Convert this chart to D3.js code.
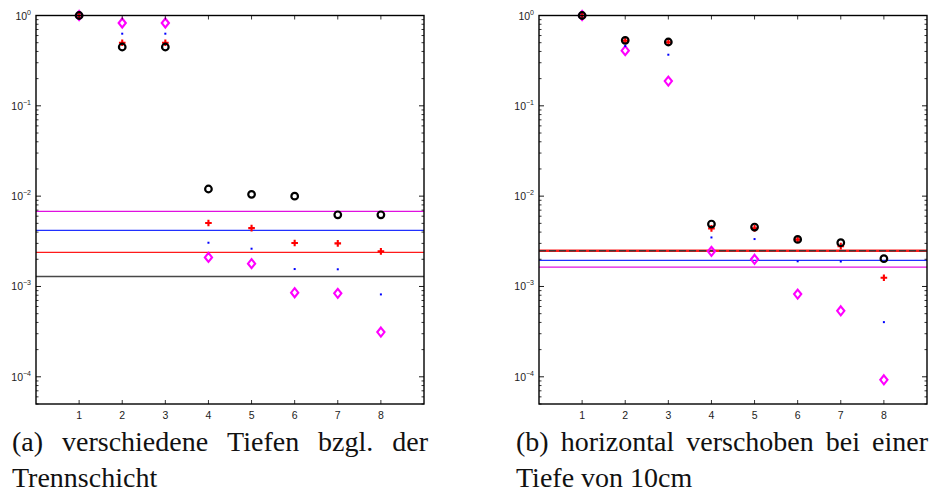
<!DOCTYPE html>
<html>
<head>
<meta charset="utf-8">
<script src="https://cdn.jsdelivr.net/npm/d3@7"></script>
<style>
  html, body { margin: 0; padding: 0; background: #fff; }
  svg { display: block; }
</style>
</head>
<body>
<svg id="chart" width="933" height="493"></svg>
<script>
// Categories on the x axis and tick values
const categories = [1, 2, 3, 4, 5, 6, 7, 8];
const xTicks = [1, 2, 3, 4, 5, 6, 7, 8];
const yTickExponents = [0, -1, -2, -3, -4];

// Panel (a): verschiedene Tiefen
const circlesA  = [1.0, 0.448, 0.448, 0.0120, 0.01047, 0.0100, 0.00622, 0.00622];
const plusA     = [1.0, 0.500, 0.500, 0.00504, 0.00443, 0.00303, 0.00300, 0.00245];
const dotsA     = [1.0, 0.629, 0.629, 0.00305, 0.00262, 0.00156, 0.00155, 0.000817];
const diamondsA = [1.0, 0.826, 0.826, 0.00210, 0.00179, 0.000853, 0.000840, 0.000313];
const levelsA   = [0.00678, 0.00418, 0.00239, 0.00129]; // magenta, blue, red, black

// Panel (b): horizontal verschoben
const circlesB  = [1.0, 0.531, 0.509, 0.00491, 0.00455, 0.00332, 0.00305, 0.00203];
const plusB     = [1.0, 0.525, 0.505, 0.00440, 0.00440, 0.00330, 0.00280, 0.00125];
const dotsB     = [1.0, 0.460, 0.368, 0.00349, 0.00335, 0.00190, 0.00189, 0.000403];
const diamondsB = [1.0, 0.408, 0.188, 0.00245, 0.00200, 0.000824, 0.000538, 0.0000927];
const levelsB   = [0.00164, 0.00195, 0.00249, 0.00249]; // magenta, blue, red, black

const captionA = ["(a) verschiedene Tiefen bzgl. der", "Trennschicht"];
const captionB = ["(b) horizontal verschoben bei einer", "Tiefe von 10cm"];

const svg = d3.select("#chart");

function drawPanel(opt) {
  const { left, right, top, bottom } = opt;
  const g = svg.append("g");
  const x = d3.scaleLinear().domain([0, 9]).range([left, right]);
  const y = d3.scaleLog().domain([5e-5, 1]).range([bottom, top]);

  // reference levels
  const levelColors = ["#e010e0", "#2030ff", "#ff1a1a", "#484848"];
  opt.levels.forEach((v, i) => {
    const ln = g.append("line")
      .attr("x1", left).attr("x2", right)
      .attr("y1", y(v)).attr("y2", y(v))
      .attr("stroke", levelColors[i])
      .attr("stroke-width", i === 3 ? 1.6 : 1.3);
    if (i === 3 && opt.dashedBlack) {
      ln.attr("stroke-dasharray", "7,3").attr("stroke", "#3a3a3a").attr("stroke-width", 1.5);
    }
    if (i === 2 && opt.dashedBlack) ln.attr("stroke-width", 2.4);
  });

  // diamonds (magenta)
  g.selectAll(".dia").data(opt.diamonds).enter().append("path")
    .attr("d", (d, i) => {
      const cx = x(categories[i]), cy = y(d);
      return `M${cx},${cy - 4.5}L${cx + 3.6},${cy}L${cx},${cy + 4.5}L${cx - 3.6},${cy}Z`;
    })
    .attr("fill", "none").attr("stroke", "#ff00ff").attr("stroke-width", 2.1);

  // dots (blue)
  g.selectAll(".dot").data(opt.dots).enter().append("rect")
    .attr("x", (d, i) => x(categories[i]) - 1)
    .attr("y", d => y(d) - 1)
    .attr("width", 2).attr("height", 2)
    .attr("fill", "#0000ff");

  // plus (red)
  g.selectAll(".plus").data(opt.plus).enter().append("path")
    .attr("d", (d, i) => {
      const cx = x(categories[i]), cy = y(d);
      return `M${cx - 3.3},${cy}H${cx + 3.3}M${cx},${cy - 3.3}V${cy + 3.3}`;
    })
    .attr("fill", "none").attr("stroke", "#ff0000").attr("stroke-width", 2.1);

  // circles (black)
  g.selectAll(".circ").data(opt.circles).enter().append("circle")
    .attr("cx", (d, i) => x(categories[i]))
    .attr("cy", d => y(d))
    .attr("r", 3.3)
    .attr("fill", "none").attr("stroke", "#000").attr("stroke-width", 2.2);

  // axes box
  g.append("rect")
    .attr("x", left).attr("y", top)
    .attr("width", right - left).attr("height", bottom - top)
    .attr("fill", "none").attr("stroke", "#000").attr("stroke-width", 1.4);

  // x ticks, inward on bottom and top
  xTicks.forEach(t => {
    const px = x(t);
    g.append("line").attr("x1", px).attr("x2", px).attr("y1", bottom).attr("y2", bottom - 4)
      .attr("stroke", "#000").attr("stroke-width", 0.8);
    g.append("line").attr("x1", px).attr("x2", px).attr("y1", top).attr("y2", top + 4)
      .attr("stroke", "#000").attr("stroke-width", 0.8);
    g.append("text").attr("x", px).attr("y", bottom + 15)
      .attr("text-anchor", "middle")
      .attr("font-family", "Liberation Sans, Arial, sans-serif")
      .attr("font-size", 10.5).attr("fill", "#222")
      .text(t);
  });

  // y ticks: major decades and minor ticks, inward on left and right
  const minorVals = [];
  for (let e = -5; e <= -1; e++) {
    for (let m = 2; m <= 9; m++) {
      const v = m * Math.pow(10, e);
      if (v >= 5e-5 && v < 1) minorVals.push(v);
    }
  }
  minorVals.forEach(v => {
    const py = y(v);
    g.append("line").attr("x1", left).attr("x2", left + 2.5).attr("y1", py).attr("y2", py)
      .attr("stroke", "#000").attr("stroke-width", 0.8);
    g.append("line").attr("x1", right).attr("x2", right - 2.5).attr("y1", py).attr("y2", py)
      .attr("stroke", "#000").attr("stroke-width", 0.8);
  });
  yTickExponents.forEach(e => {
    const py = y(Math.pow(10, e));
    g.append("line").attr("x1", left).attr("x2", left + 5).attr("y1", py).attr("y2", py)
      .attr("stroke", "#000").attr("stroke-width", 0.9);
    g.append("line").attr("x1", right).attr("x2", right - 5).attr("y1", py).attr("y2", py)
      .attr("stroke", "#000").attr("stroke-width", 0.9);
    const txt = g.append("text")
      .attr("x", left - 5).attr("y", py + 4)
      .attr("text-anchor", "end")
      .attr("font-family", "Liberation Sans, Arial, sans-serif")
      .attr("font-size", 10.5).attr("fill", "#222");
    txt.append("tspan").text("10");
    txt.append("tspan").attr("dy", -5).attr("font-size", 7)
      .text(e === 0 ? "0" : "\u2212" + Math.abs(e));
  });

  // caption, first line justified to the panel width
  const capLeft = opt.capLeft, capRight = opt.capRight;
  const words = opt.caption[0].split(" ");
  const font = { family: "Liberation Serif, Times New Roman, serif", size: 28 };
  const nodes = words.map(w => svg.append("text")
    .attr("y", 451)
    .attr("font-family", font.family).attr("font-size", font.size)
    .attr("fill", "#111").text(w));
  const widths = nodes.map(n => n.node().getComputedTextLength());
  const total = d3.sum(widths);
  const gap = (capRight - capLeft - total) / (words.length - 1);
  let cx = capLeft;
  nodes.forEach((n, i) => { n.attr("x", cx); cx += widths[i] + gap; });
  svg.append("text").attr("x", capLeft).attr("y", 487)
    .attr("font-family", font.family).attr("font-size", font.size)
    .attr("fill", "#111").text(opt.caption[1]);
}

drawPanel({
  left: 36, right: 424, top: 15.5, bottom: 404,
  circles: circlesA, plus: plusA, dots: dotsA, diamonds: diamondsA,
  levels: levelsA, dashedBlack: false,
  caption: captionA, capLeft: 12, capRight: 428
});

drawPanel({
  left: 539, right: 927, top: 15.5, bottom: 404,
  circles: circlesB, plus: plusB, dots: dotsB, diamonds: diamondsB,
  levels: levelsB, dashedBlack: true,
  caption: captionB, capLeft: 516, capRight: 928
});
</script>
</body>
</html>
